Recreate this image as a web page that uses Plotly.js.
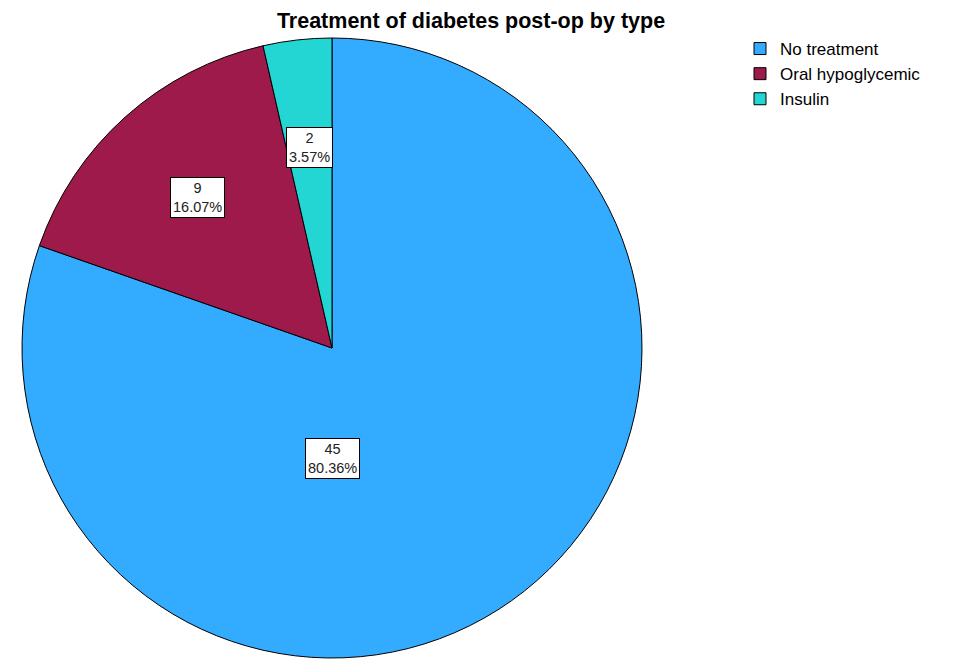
<!DOCTYPE html>
<html>
<head>
<meta charset="utf-8">
<script src="https://cdn.plot.ly/plotly-3.0.1.min.js"></script>
<style>
  html, body { margin: 0; padding: 0; background: #ffffff; }
  #chart { width: 953px; height: 660px; }
</style>
</head>
<body>
<div id="chart"></div>
<script>
// Post-op diabetes treatment counts
const categories = ['No treatment', 'Oral hypoglycemic', 'Insulin'];
const counts = [45, 9, 2];
const sliceColors = ['#33abff', '#9e1a4b', '#24d6d3'];

// Pie geometry in pixels (page is 953 x 660, no margins)
const W = 953, H = 660;
const cx = 332, cy = 348, R = 310;

const total = counts.reduce((a, b) => a + b, 0);

// Label boxes: value and percentage, placed along each slice's middle angle
const annotations = [];
let start = 0;
counts.forEach((v, i) => {
  const frac = v / total;
  let mid = (start + frac / 2) * 2 * Math.PI; // clockwise from 12 o'clock
  let rFrac = 0.65;
  if (frac > 0.5) { mid = Math.PI; rFrac = 0.355; } // dominant slice: label straight below centre
  const px = cx + rFrac * R * Math.sin(mid);
  const py = cy - rFrac * R * Math.cos(mid);
  annotations.push({
    x: px / W, y: 1 - py / H, xref: 'paper', yref: 'paper',
    xanchor: 'center', yanchor: 'middle',
    text: v + '<br>' + (frac * 100).toFixed(2) + '%',
    showarrow: false,
    font: { family: 'Liberation Sans, Arial, sans-serif', size: 14.5, color: '#222222' },
    bgcolor: '#ffffff', bordercolor: '#000000', borderwidth: 1, borderpad: 2
  });
  start += frac;
});

const trace = {
  type: 'pie',
  labels: categories,
  values: counts,
  sort: false,
  direction: 'clockwise',
  rotation: 0,
  textinfo: 'none',
  hoverinfo: 'label+value+percent',
  marker: { colors: sliceColors, line: { color: '#000000', width: 1 } },
  domain: { x: [(cx - R) / W, (cx + R) / W], y: [1 - (cy + R) / H, 1 - (cy - R) / H] }
};

const layout = {
  width: W, height: H,
  margin: { l: 0, r: 0, t: 0, b: 0 },
  paper_bgcolor: '#ffffff',
  title: {
    text: '<b>Treatment of diabetes post-op by type</b>',
    font: { family: 'Liberation Sans, Arial, sans-serif', size: 21.5, color: '#000000' },
    x: 471 / W, xanchor: 'center', xref: 'paper',
    y: 1 - 20 / H, yanchor: 'middle', yref: 'container'
  },
  showlegend: true,
  legend: {
    x: 740 / W, xanchor: 'left', y: 1 - 31 / H, yanchor: 'top',
    font: { family: 'Liberation Sans, Arial, sans-serif', size: 17, color: '#000000' },
    itemwidth: 30, tracegroupgap: 0, traceorder: 'normal'
  },
  annotations: annotations
};

Plotly.newPlot('chart', [trace], layout, { displayModeBar: false, staticPlot: true });
</script>
</body>
</html>
